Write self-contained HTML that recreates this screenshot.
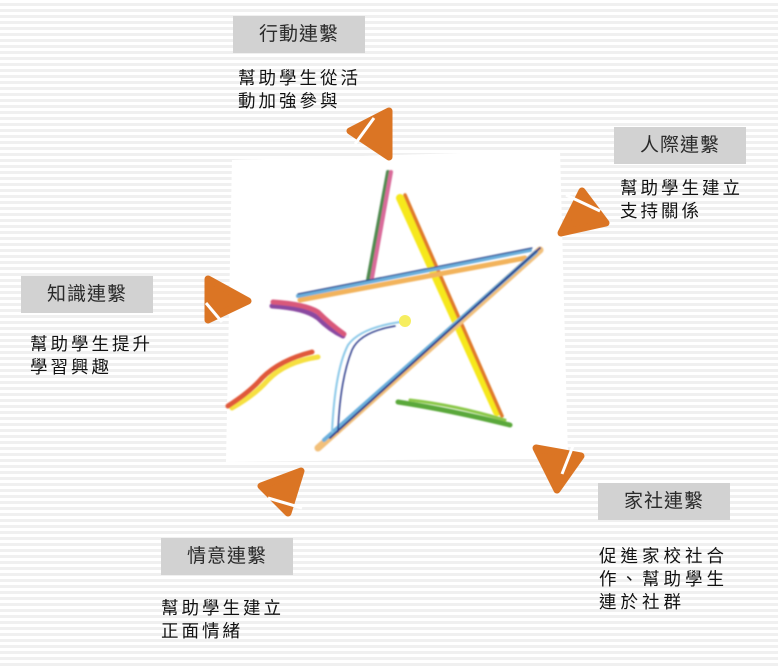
<!DOCTYPE html>
<html><head><meta charset="utf-8"><style>
html,body{margin:0;padding:0}
body{width:778px;height:669px;position:relative;overflow:hidden;
background:repeating-linear-gradient(to bottom,#fff 0px,#fff 3px,#f0f0f0 3px,#f0f0f0 6px);
font-family:"Liberation Sans","Noto Sans CJK TC",sans-serif;}
.box{position:absolute;width:132px;height:37px;background:#d2d2d2;color:#2a2a2a;font-size:19px;line-height:37px;text-align:center;letter-spacing:1px}
.d{position:absolute;font-size:17.5px;line-height:23px;color:#111;letter-spacing:3px;white-space:nowrap}
svg{position:absolute;left:0;top:0}
</style></head><body>
<svg width="778" height="669" viewBox="0 0 778 669">
<defs><filter id="b"><feGaussianBlur stdDeviation="0.8"/></filter></defs>
<polygon points="232,160 560,150 568,458 226,462" fill="#fff"/>
<g stroke-linecap="round" fill="none" filter="url(#b)">
<path d="M388,172 L368,280" stroke="#4f8a4f" stroke-width="4"/>
<path d="M391,172 L372,278" stroke="#d96a9a" stroke-width="4"/>
<path d="M400,198 L497,412" stroke="#f6e81a" stroke-width="8"/>
<path d="M405,195 L502,416" stroke="#e07a2a" stroke-width="3.5"/>
<path d="M300,300 L525,258" stroke="#f2b35c" stroke-width="5"/>
<path d="M298,296 L530,250" stroke="#6aafdc" stroke-width="4"/>
<path d="M298,294 L532,248" stroke="#2a3e8a" stroke-width="1.2"/>
<path d="M318,448 L540,250" stroke="#f2c07a" stroke-width="7"/>
<path d="M324,440 L536,252" stroke="#6aafdc" stroke-width="4"/>
<path d="M330,438 L540,248" stroke="#2a3a8a" stroke-width="2"/>
<path d="M398,402 Q450,410 510,425" stroke="#5aa83a" stroke-width="5"/>
<path d="M410,400 Q455,405 505,420" stroke="#8ac84a" stroke-width="3"/>
<path d="M272,306 Q305,308 318,318 Q330,330 343,336" stroke="#8a4aa0" stroke-width="5"/>
<path d="M273,302 Q305,304 318,312 Q330,324 344,334" stroke="#d9587a" stroke-width="5"/>
<path d="M232,408 Q255,395 268,380 Q285,362 318,357" stroke="#f6e040" stroke-width="5"/>
<path d="M228,406 Q250,392 262,378 Q280,360 312,352" stroke="#e0583a" stroke-width="5"/>
<path d="M400,322 Q360,328 348,345 Q335,370 332,432" stroke="#8ac8e8" stroke-width="2"/>
<path d="M395,326 Q360,332 352,350 Q340,380 338,432" stroke="#2a3a8a" stroke-width="1.5"/>
</g>
<circle cx="405" cy="321" r="6" fill="#f6ee60"/>
<g fill="#db7524" stroke="#db7524" stroke-width="7" stroke-linejoin="round">
<polygon points="350,131 389,111 389,157"/>
<polygon points="582,191 561,233 606,223"/>
<polygon points="208,279 248,301 208,320"/>
<polygon points="536,448 581,456 557,490"/>
<polygon points="301,471 261,486 288,513"/>
</g>
<g stroke="#fff" stroke-width="3">
<line x1="374" y1="118" x2="355" y2="144"/>
<line x1="566" y1="195" x2="600" y2="211"/>
<line x1="206" y1="303" x2="222" y2="322"/>
<line x1="573" y1="446" x2="562" y2="474"/>
<line x1="268" y1="498" x2="302" y2="508"/>
</g>
</svg>
<div class="box" style="left:233px;top:16px">行動連繫</div>
<div class="box" style="left:614px;top:127px">人際連繫</div>
<div class="box" style="left:21px;top:276px">知識連繫</div>
<div class="box" style="left:598px;top:483px">家社連繫</div>
<div class="box" style="left:161px;top:538px">情意連繫</div>
<div class="d" style="left:238px;top:67px">幫助學生從活<br>動加強參與</div>
<div class="d" style="left:620px;top:177px">幫助學生建立<br>支持關係</div>
<div class="d" style="left:30px;top:333px">幫助學生提升<br>學習興趣</div>
<div class="d" style="left:599px;top:545px;letter-spacing:4px">促進家校社合<br>作、幫助學生<br>連於社群</div>
<div class="d" style="left:161px;top:597px">幫助學生建立<br>正面情緒</div>
</body></html>
